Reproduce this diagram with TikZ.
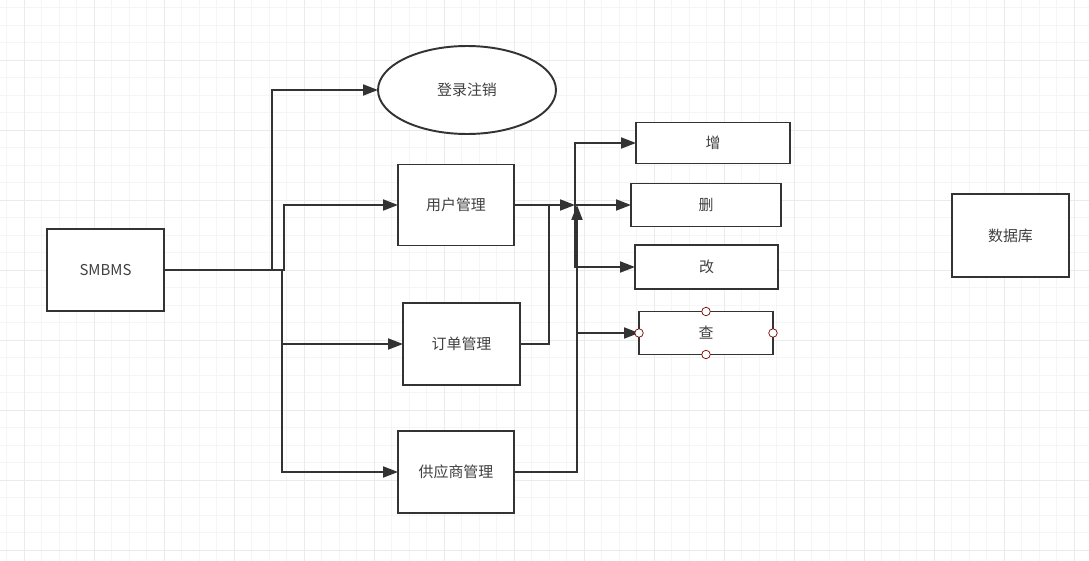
\documentclass[tikz,border=0pt]{standalone}
\usepackage{fontspec}
\setmainfont{Noto Sans CJK SC}
\usetikzlibrary{arrows.meta,shapes.geometric}

\begin{document}
\begin{tikzpicture}[x=0.02cm,y=-0.02cm,box/.style={draw=black!80,line width=1.1pt,fill=white,align=center,inner sep=2pt,outer sep=0pt,font=\fontsize{8.5}{10}\selectfont,text=black!75},arrow/.style={-{Triangle[length=3mm,width=2.2mm]},line width=1.1pt,draw=black!80},link/.style={line width=1.1pt,draw=black!80},gridminor/.style={draw=black!4,line width=0.4pt},gridmajor/.style={draw=black!8,line width=0.5pt},handle/.style={circle,draw=red!45!black,fill=white,line width=0.4pt,inner sep=0pt,minimum size=0.17cm}]
\useasboundingbox (0,0) rectangle (1089,561);
\fill[white] (0,0) rectangle (1089,561);
\foreach \x in {6.5,24,...,1089} \draw[gridminor] (\x,0) -- (\x,561);
\foreach \y in {7.5,25,...,561} \draw[gridminor] (0,\y) -- (1089,\y);
\foreach \x in {24,94,...,1089} \draw[gridmajor] (\x,0) -- (\x,561);
\foreach \y in {60,130,...,561} \draw[gridmajor] (0,\y) -- (1089,\y);
\node[box,minimum width=2.34cm,minimum height=1.64cm] (n0) at (105.5,270) {SMBMS};
\node[box,ellipse,minimum width=3.56cm,minimum height=1.76cm] (n1) at (467,90) {登录注销};
\node[box,minimum width=2.32cm,minimum height=1.62cm] (n2) at (456,205) {用户管理};
\node[box,minimum width=2.34cm,minimum height=1.64cm] (n3) at (461.5,344) {订单管理};
\node[box,minimum width=2.32cm,minimum height=1.64cm] (n4) at (456,472) {供应商管理};
\node[box,minimum width=3.08cm,minimum height=0.82cm] (n5) at (713,143) {增};
\node[box,minimum width=3.0cm,minimum height=0.86cm] (n6) at (706,205) {删};
\node[box,minimum width=2.86cm,minimum height=0.88cm] (n7) at (706.5,267) {改};
\node[box,minimum width=2.68cm,minimum height=0.86cm] (n8) at (706,333) {查};
\node[box,minimum width=2.34cm,minimum height=1.66cm] (n9) at (1010.5,235.5) {数据库};
\coordinate (j0) at (575,205);
\coordinate (j1) at (577,205);
\draw[arrow] (n0.east) -- (272,270) |- (n1.west);
\draw[arrow] (n0.east) -- (284,270) |- (n2.west);
\draw[arrow] (n0.east) -- (282,270) |- (n3.west);
\draw[arrow] (n0.east) -- (282,270) |- (n4.west);
\draw[link] (n3.east) -- (549,344) -- (549,205);
\draw[arrow] (n2.east) -- (j0);
\draw[arrow] (n4.east) -| (j1);
\draw[arrow] (j0) |- (n5.west);
\draw[arrow] (j0) -- (n6.west);
\draw[arrow] (j0) |- (n7.west);
\draw[arrow] (n8.west -| j1) -- (n8.west);
\node[handle] (h0) at (n8.north) {};
\node[handle] (h1) at (n8.south) {};
\node[handle] (h2) at (n8.west) {};
\node[handle] (h3) at (n8.east) {};
\end{tikzpicture}
\end{document}
